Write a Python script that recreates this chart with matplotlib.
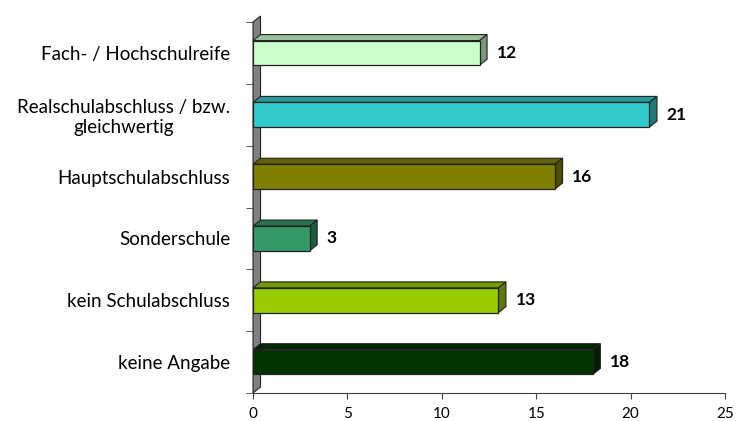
import numpy as np
import matplotlib
matplotlib.use("Agg")
import matplotlib.pyplot as plt
from matplotlib.patches import Polygon
from matplotlib.colors import to_rgb

categories = ["keine Angabe", "kein Schulabschluss", "Sonderschule",
              "Hauptschulabschluss", "Realschulabschluss / bzw.\ngleichwertig",
              "Fach- / Hochschulreife"]
values = [18, 13, 3, 16, 21, 12]
colors = ["#003300", "#99CC00", "#339966", "#808000", "#33CCCC", "#CCFFCC"]
xticks = [0, 5, 10, 15, 20, 25]


def shade(c, f=0.7):
    r, g, b = to_rgb(c)
    return (r * f, g * f, b * f)


fig = plt.figure(figsize=(7.37, 4.21), dpi=100)
ax = fig.add_axes([0.3433, 0.0665, 0.9837 - 0.3433, 0.9477 - 0.0665])

xmax = 25
ax.set_xlim(0, xmax)
ax.set_ylim(-0.5, len(categories) - 0.5)

# depth of the 3d effect, about 7 px in both directions
px_x = xmax / 472.0
px_y = len(categories) / 371.0
dx = 7.5 * px_x
dy = 6 * px_y
h = 0.4
edge = "#222222"

# gray wall on the left
wall = Polygon([(0, -0.5), (dx, -0.5 + dy), (dx, len(categories) - 0.5 + dy),
                (0, len(categories) - 0.5)], closed=True, facecolor="#808080",
               edgecolor=edge, linewidth=0.8, clip_on=False, zorder=1)
ax.add_patch(wall)

for i, (v, c) in enumerate(zip(values, colors)):
    y0 = i - h / 2
    y1 = i + h / 2
    front = Polygon([(0, y0), (v, y0), (v, y1), (0, y1)], closed=True,
                    facecolor=c, edgecolor=edge, linewidth=0.9, zorder=3)
    top = Polygon([(0, y1), (v, y1), (v + dx, y1 + dy), (dx, y1 + dy)], closed=True,
                  facecolor=shade(c, 0.75), edgecolor=edge, linewidth=0.8, zorder=2)
    side = Polygon([(v, y0), (v + dx, y0 + dy), (v + dx, y1 + dy), (v, y1)], closed=True,
                   facecolor=shade(c, 0.6), edgecolor=edge, linewidth=0.8, zorder=2)
    for p in (top, side, front):
        ax.add_patch(p)
    ax.annotate(str(v), (v + dx, i), xytext=(7, 0), textcoords="offset points",
                ha="left", va="center", fontsize=12.5, fontweight="bold",
                family="Lato", color="black")

ax.set_yticks(range(len(categories)))
ax.set_yticklabels(categories, family="Lato", fontsize=13.5, multialignment="center")
ax.set_yticks(np.arange(-0.5, len(categories), 1), minor=True)
ax.tick_params(axis="y", which="major", length=0, pad=16.5)
ax.tick_params(axis="y", which="minor", length=5, color="#404040")

ax.set_xticks(xticks)
ax.set_xticklabels([str(t) for t in xticks], family="Lato", fontsize=11)
ax.tick_params(axis="x", length=4, color="#404040", pad=6)

for s in ("top", "right"):
    ax.spines[s].set_visible(False)
ax.spines["left"].set_visible(False)
ax.spines["bottom"].set_color("#404040")

fig.savefig("out.png", dpi=100)
